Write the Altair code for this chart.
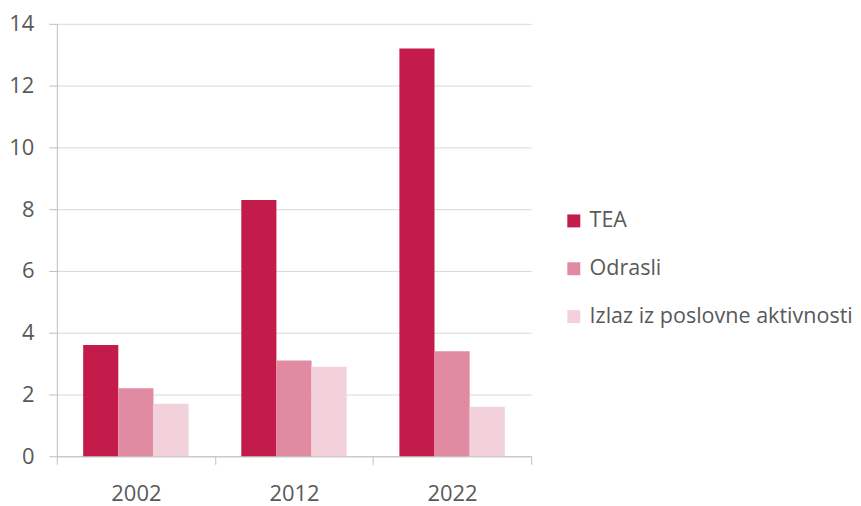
import altair as alt
import pandas as pd

years = ["2002", "2012", "2022"]
series = ["TEA", "Odrasli", "Izlaz iz poslovne aktivnosti"]
tea = [3.6, 8.3, 13.2]
odrasli = [2.2, 3.1, 3.4]
izlaz = [1.7, 2.9, 1.6]
colors = ["#C41C4A", "#E08BA2", "#F3D1DB"]
y_ticks = [0, 2, 4, 6, 8, 10, 12, 14]

rows = []
for i, yr in enumerate(years):
    for s, vals in zip(series, [tea, odrasli, izlaz]):
        rows.append({"year": yr, "series": s, "value": vals[i]})
df = pd.DataFrame(rows)

FONT = "Open Sans"
TEXT = "#595959"
GRID = "#D9D9D9"
AXIS = "#BFBFBF"
FS = 22

chart = alt.Chart(df).mark_bar().encode(
    x=alt.X(
        "year:N", title=None, sort=years,
        scale=alt.Scale(paddingInner=0, paddingOuter=0),
        axis=alt.Axis(labelAngle=0, tickBand="extent", domainColor=AXIS, tickColor=AXIS,
                      tickSize=8, labelFontSize=FS, labelColor=TEXT, labelFont=FONT,
                      labelPadding=19, grid=False),
    ),
    xOffset=alt.XOffset("series:N", sort=series,
                        scale=alt.Scale(domain=series, paddingInner=0, paddingOuter=0.75)),
    y=alt.Y(
        "value:Q", title=None,
        scale=alt.Scale(domain=[0, 14], nice=False),
        axis=alt.Axis(values=y_ticks, domainColor=AXIS, tickColor=AXIS, tickSize=8,
                      gridColor=GRID, labelFontSize=FS, labelColor=TEXT, labelFont=FONT,
                      labelPadding=15, minExtent=48, maxExtent=48),
    ),
    color=alt.Color(
        "series:N", sort=series,
        scale=alt.Scale(domain=series, range=colors),
        legend=alt.Legend(title=None, orient="none", legendX=508, legendY=187,
                          symbolType="square", symbolSize=169, symbolStrokeWidth=0,
                          labelFontSize=21.6, labelColor=TEXT, labelFont=FONT,
                          labelLimit=400, rowPadding=25, labelOffset=5),
    ),
).properties(
    width=476, height=434,
    padding={"left": 0, "top": 4, "right": 0, "bottom": 0},
).configure_view(stroke=None)

chart.save("out.html", embed_options={"renderer": "svg", "actions": False})
